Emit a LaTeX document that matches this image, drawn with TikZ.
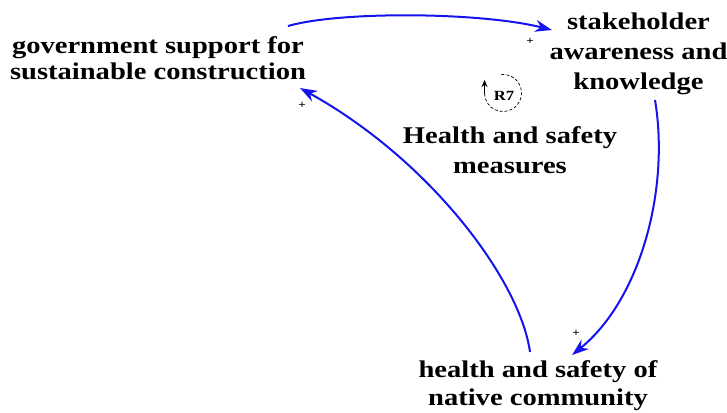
\documentclass[tikz,border=0pt]{standalone}
\usepackage{fontspec}
\setmainfont{Liberation Serif}[FakeStretch=1.19]
\usetikzlibrary{arrows.meta}
\begin{document}
\begin{tikzpicture}[x=1pt,y=-1pt,
  var/.style={font=\bfseries\fontsize{24}{28}\selectfont, align=center, inner sep=2pt, anchor=base},
  link/.style={draw={rgb,255:red,20;green,20;blue,240}, line width=2pt,
    -{Stealth[length=17pt,width=12pt]}},
  pol/.style={font=\bfseries\fontsize{11}{11}\selectfont, inner sep=0pt}]
\useasboundingbox (0,0) rectangle (727,412);
% variables (placed by the baseline of their last line)
\node[var, font=\bfseries\fontsize{24}{26}\selectfont] (gov) at (158,79) {government support for\\sustainable construction};
\node[var, font=\bfseries\fontsize{24}{30}\selectfont] (stake) at (638.5,89) {stakeholder\\awareness and\\knowledge};
\node[var, font=\bfseries\fontsize{24}{30}\selectfont] (loopname) at (510,173) {Health and safety\\measures};
\node[var] (comm) at (538,405) {health and safety of\\native community};
% causal links
\draw[link] ([shift={(130,-53)}]gov.base) .. controls (340,11) and (480,12) .. ([shift={(-86.5,-59)}]stake.base);
\draw[link] ([shift={(16.5,11)}]stake.base) .. controls (670,190) and (640,300) .. ([shift={(34,-50)}]comm.base);
\draw[link] ([shift={(-8,-53)}]comm.base) .. controls (520,280) and (430,160) .. ([shift={(142,9)}]gov.base);
% polarities
\node[pol] (p1) at (530,41) {+};
\node[pol] (p2) at (576,333) {+};
\node[pol] (p3) at (302,105) {+};
% loop marker
\node[font=\bfseries\fontsize{14}{14}\selectfont, inner sep=0pt] (r7) at (504,95.5) {R7};
\coordinate (lc) at (503,93);
\draw[densely dashed, line width=0.7pt] (lc) ++(-95:18.5) arc[start angle=-95, end angle=178, radius=18.5];
\draw[line width=1.2pt, -{Stealth[length=7pt,width=6pt]}] (lc) ++(-18.5,1) -- ++(0,-14);
\end{tikzpicture}
\end{document}
